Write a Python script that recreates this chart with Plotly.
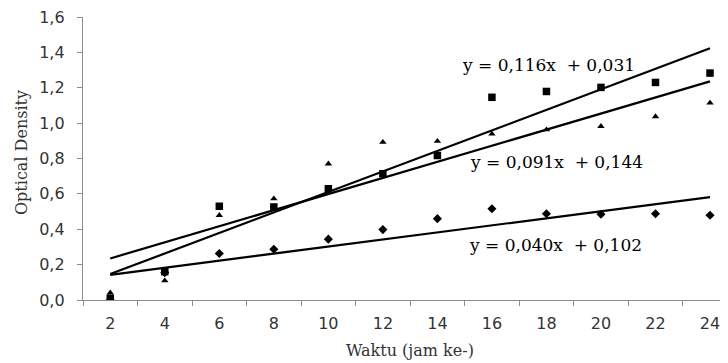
import plotly.graph_objects as go
import numpy as np

categories = ["2", "4", "6", "8", "10", "12", "14", "16", "18", "20", "22", "24"]
square_vals = [0.01, 0.16, 0.53, 0.526, 0.629, 0.714, 0.817, 1.146, 1.179, 1.202, 1.230, 1.283]
triangle_vals = [0.041, 0.109, 0.479, 0.573, 0.770, 0.892, 0.898, 0.939, 0.963, 0.982, 1.037, 1.114]
diamond_vals = [0.0, 0.155, 0.263, 0.287, 0.344, 0.398, 0.460, 0.516, 0.488, 0.485, 0.488, 0.479]

# trendline coefficients (slope, intercept) as shown on chart, x = point index 1..n
trend_square = (0.116, 0.031)
trend_triangle = (0.091, 0.144)
trend_diamond = (0.040, 0.102)

eq_texts = ["y = 0,116x  + 0,031", "y = 0,091x  + 0,144", "y = 0,040x  + 0,102"]

y_ticks = [0, 0.2, 0.4, 0.6, 0.8, 1.0, 1.2, 1.4, 1.6]
y_ticktext = ["0,0", "0,2", "0,4", "0,6", "0,8", "1,0", "1,2", "1,4", "1,6"]

x_title = "Waktu (jam ke-)"
y_title = "Optical Density"

fig = go.Figure()

n = len(categories)
ends = [categories[0], categories[-1]]
for (m, b) in [trend_square, trend_triangle, trend_diamond]:
    fig.add_trace(go.Scatter(x=ends, y=[m * 1 + b, m * n + b], mode="lines",
                             line=dict(color="black", width=2.2), showlegend=False))

fig.add_trace(go.Scatter(x=categories, y=diamond_vals, mode="markers",
                         marker=dict(symbol="diamond", size=7, color="black"), showlegend=False))
fig.add_trace(go.Scatter(x=categories, y=triangle_vals, mode="markers",
                         marker=dict(symbol="triangle-up", size=6.5, color="black"), showlegend=False))
fig.add_trace(go.Scatter(x=categories, y=square_vals, mode="markers",
                         marker=dict(symbol="square", size=7.5, color="black"), showlegend=False))

serif = "DejaVu Serif"
sans = "DejaVu Sans"

# plot area in page pixels: x 83..728, y 17..300
def px2paper(px, py):
    return (px - 83) / (728 - 83), (300 - py) / 283

ann_pos = [(460, 65), (468, 162), (467, 245)]
for t, (px, py) in zip(eq_texts, ann_pos):
    ax, ay = px2paper(px, py)
    fig.add_annotation(text=t, xref="paper", yref="paper", x=ax, y=ay,
                       xanchor="left", yanchor="middle", showarrow=False,
                       font=dict(family=serif, size=17, color="black"))

ax, ay = px2paper(410, 350)
fig.add_annotation(text=x_title, xref="paper", yref="paper", x=ax, y=ay,
                   xanchor="center", yanchor="middle", showarrow=False,
                   font=dict(family=serif, size=16, color="#333333"))
ax, ay = px2paper(21, 153)
fig.add_annotation(text=y_title, xref="paper", yref="paper", x=ax, y=ay, textangle=-90,
                   xanchor="center", yanchor="middle", showarrow=False,
                   font=dict(family=serif, size=16, color="#333333"))

fig.update_xaxes(type="category", categoryorder="array", categoryarray=categories,
                 range=[-0.5, 11.33], tickson="boundaries", automargin=False,
                 ticks="outside", ticklen=5, tickcolor="#8c8c8c", tickwidth=1,
                 showline=True, linecolor="#8c8c8c", linewidth=1.3,
                 showgrid=False, zeroline=False, ticklabeloverflow="allow",
                 tickfont=dict(family=sans, size=16, color="#333333"),
                 ticklabelstandoff=9)
fig.update_yaxes(range=[0, 1.6], tickvals=y_ticks, ticktext=y_ticktext, automargin=False,
                 ticks="outside", ticklen=5, tickcolor="#8c8c8c", tickwidth=1,
                 showline=True, linecolor="#8c8c8c", linewidth=1.3,
                 showgrid=False, zeroline=False, ticklabeloverflow="allow",
                 tickfont=dict(family=sans, size=16, color="#333333"),
                 ticklabelstandoff=9)

fig.update_layout(width=720, height=355, margin=dict(l=75, r=0, t=9, b=63),
                  plot_bgcolor="white", paper_bgcolor="white")

fig.write_html("out.html")
